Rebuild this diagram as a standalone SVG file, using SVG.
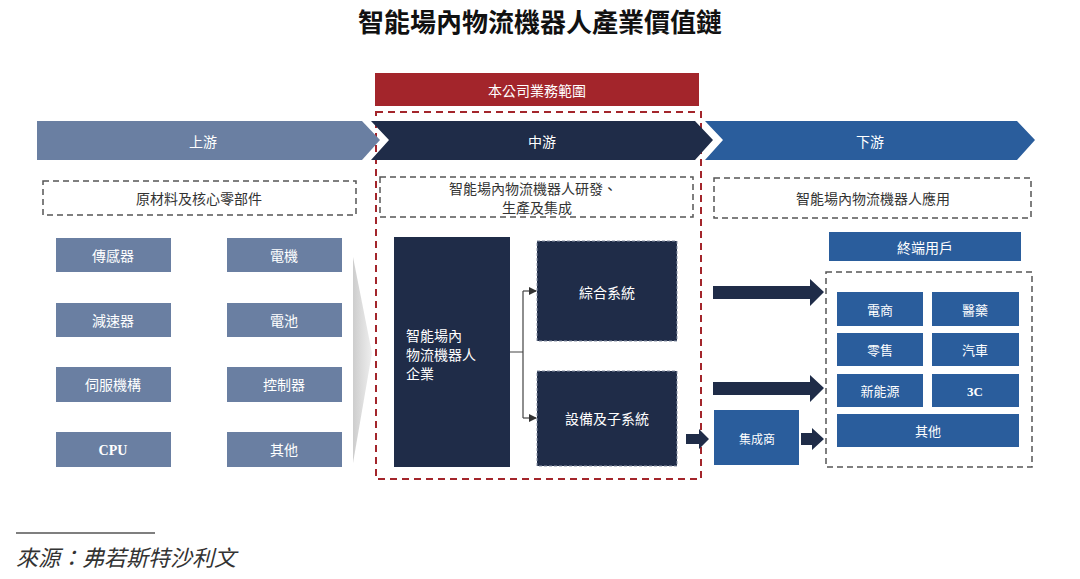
<svg xmlns="http://www.w3.org/2000/svg" width="1080" height="579" viewBox="0 0 1080 579">
<defs>
<style>
.t{font-family:"Noto Sans CJK TC","Noto Sans CJK SC",sans-serif;text-anchor:middle;dominant-baseline:central}
.w{fill:#ffffff;font-size:14px}
.d{fill:#333333;font-size:14px}
.lat{font-family:"Liberation Serif",serif;font-weight:bold}
.up{fill:#6a7fa2}
.mid{fill:#1f2c48}
.dn{fill:#2a5d9c}
.dash{fill:none;stroke:#555;stroke-width:1.5;stroke-dasharray:6,4}
.arr{fill:#1f2c48}
</style>
<linearGradient id="wedge" x1="0" y1="0" x2="1" y2="0">
<stop offset="0" stop-color="#cdcdcd"/>
<stop offset="1" stop-color="#efefef"/>
</linearGradient>
<marker id="ah" markerWidth="8" markerHeight="8" refX="7" refY="4" orient="auto" markerUnits="userSpaceOnUse">
<path d="M0,0 L8,4 L0,8 Z" fill="#333"/>
</marker>
</defs>
<rect width="1080" height="579" fill="#ffffff"/>

<text class="t" x="540" y="20" style="font-size:26px;font-weight:bold;fill:#111">智能場內物流機器人產業價值鏈</text>

<g id="scope">
<rect x="375" y="73" width="324" height="33" fill="#a3252b"/>
<text class="t w" x="537" y="90">本公司業務範圍</text>
<rect x="376" y="112" width="325" height="367" fill="none" stroke="#a3252b" stroke-width="2" stroke-dasharray="7,5"/>
</g>

<g id="upstream-header">
<polygon class="up" points="37,121 362,121 380,140 362,160 37,160"/>
<text class="t w" x="203" y="141">上游</text>
</g>
<g id="midstream-header">
<polygon class="mid" points="371,121 695,121 713,140 695,160 371,160 389,140"/>
<text class="t w" x="542" y="141">中游</text>
</g>
<g id="downstream-header">
<polygon class="dn" points="705,121 1017,121 1035,140 1017,160 705,160 723,140"/>
<text class="t w" x="870" y="141">下游</text>
</g>

<g id="upstream-label">
<rect class="dash" x="43" y="181" width="313" height="34"/>
<text class="t d" x="199" y="198">原材料及核心零部件</text>
</g>
<g id="midstream-label">
<rect class="dash" x="380" y="177" width="313" height="40"/>
<text class="t d" x="533" y="188">智能場內物流機器人研發、</text>
<text class="t d" x="537" y="207">生產及集成</text>
</g>
<g id="downstream-label">
<rect class="dash" x="714" y="178" width="317" height="40"/>
<text class="t d" x="873" y="198">智能場內物流機器人應用</text>
</g>

<g id="sensor"><rect class="up" x="56" y="238" width="115" height="34"/><text class="t w" x="113" y="255">傳感器</text></g>
<g id="motor"><rect class="up" x="227" y="238" width="115" height="34"/><text class="t w" x="284" y="255">電機</text></g>
<g id="reducer"><rect class="up" x="56" y="303" width="115" height="34"/><text class="t w" x="113" y="320">減速器</text></g>
<g id="battery"><rect class="up" x="227" y="303" width="115" height="34"/><text class="t w" x="284" y="320">電池</text></g>
<g id="servo"><rect class="up" x="56" y="367" width="115" height="35"/><text class="t w" x="113" y="384">伺服機構</text></g>
<g id="controller"><rect class="up" x="227" y="367" width="115" height="35"/><text class="t w" x="284" y="384">控制器</text></g>
<g id="cpu"><rect class="up" x="56" y="432" width="115" height="35"/><text class="t w lat" x="113" y="450">CPU</text></g>
<g id="others-up"><rect class="up" x="227" y="432" width="115" height="35"/><text class="t w" x="284" y="449">其他</text></g>

<g id="wedge-shape"><polygon points="353,257 372,353 353,463" fill="url(#wedge)"/></g>

<g id="enterprise">
<rect class="mid" x="394" y="237" width="116" height="230"/>
<text class="t w" x="406" y="335" style="text-anchor:start">智能場內</text>
<text class="t w" x="406" y="354" style="text-anchor:start">物流機器人</text>
<text class="t w" x="406" y="373" style="text-anchor:start">企業</text>
</g>
<g id="integrated-system">
<rect class="mid" x="537" y="241" width="140" height="100" stroke="#8a93a6" stroke-width="1" stroke-dasharray="3,2"/>
<text class="t w" x="607" y="292">綜合系統</text>
</g>
<g id="equipment">
<rect class="mid" x="537" y="371" width="140" height="95" stroke="#8a93a6" stroke-width="1" stroke-dasharray="3,2"/>
<text class="t w" x="607" y="418">設備及子系統</text>
</g>

<g id="integrator">
<rect class="dn" x="714" y="410" width="85" height="55"/>
<text class="t" x="757" y="438" style="fill:#fff;font-size:12px">集成商</text>
</g>

<g id="end-users">
<rect class="dn" x="829" y="232" width="192" height="29"/>
<text class="t w" x="925" y="247">終端用戶</text>
</g>
<g id="industries">
<rect class="dash" x="826" y="272" width="206" height="195"/>
</g>
<g id="ecommerce"><rect class="dn" x="837" y="292" width="86" height="34"/><text class="t" x="880" y="309" style="fill:#fff;font-size:13px">電商</text></g>
<g id="pharma"><rect class="dn" x="932" y="292" width="87" height="34"/><text class="t" x="975" y="309" style="fill:#fff;font-size:13px">醫藥</text></g>
<g id="retail"><rect class="dn" x="837" y="333" width="86" height="33"/><text class="t" x="880" y="349" style="fill:#fff;font-size:13px">零售</text></g>
<g id="auto"><rect class="dn" x="932" y="333" width="87" height="33"/><text class="t" x="975" y="349" style="fill:#fff;font-size:13px">汽車</text></g>
<g id="new-energy"><rect class="dn" x="837" y="374" width="86" height="33"/><text class="t" x="880" y="390" style="fill:#fff;font-size:13px">新能源</text></g>
<g id="threec"><rect class="dn" x="932" y="374" width="87" height="33"/><text class="t lat" x="975" y="391" style="fill:#fff;font-size:13px">3C</text></g>
<g id="others-down"><rect class="dn" x="837" y="414" width="182" height="33"/><text class="t" x="928" y="430" style="fill:#fff;font-size:13px">其他</text></g>

<g id="connectors">
<path d="M510,352 H523 M523,291 V418" fill="none" stroke="#444" stroke-width="1.2"/>
<path d="M523,291 H536" fill="none" stroke="#444" stroke-width="1.2" marker-end="url(#ah)"/>
<path d="M523,418 H536" fill="none" stroke="#444" stroke-width="1.2" marker-end="url(#ah)"/>
<polygon class="arr" points="713,286 810,286 810,279 824,292 810,306 810,299 713,299"/>
<polygon class="arr" points="713,382 810,382 810,375 824,388 810,402 810,395 713,395"/>
<polygon class="arr" points="686,434 699,434 699,429 709,439 699,449 699,444 686,444"/>
<polygon class="arr" points="801,433 812,433 812,428 824,439 812,450 812,445 801,445"/>
</g>

<g id="source">
<line x1="16" y1="533" x2="155" y2="533" stroke="#555" stroke-width="1.5"/>
<text x="16" y="556" style="font-family:'Noto Sans CJK TC','Noto Sans CJK SC',sans-serif;font-size:22px;font-style:italic;fill:#333;dominant-baseline:central">來源：弗若斯特沙利文</text>
</g>
</svg>
